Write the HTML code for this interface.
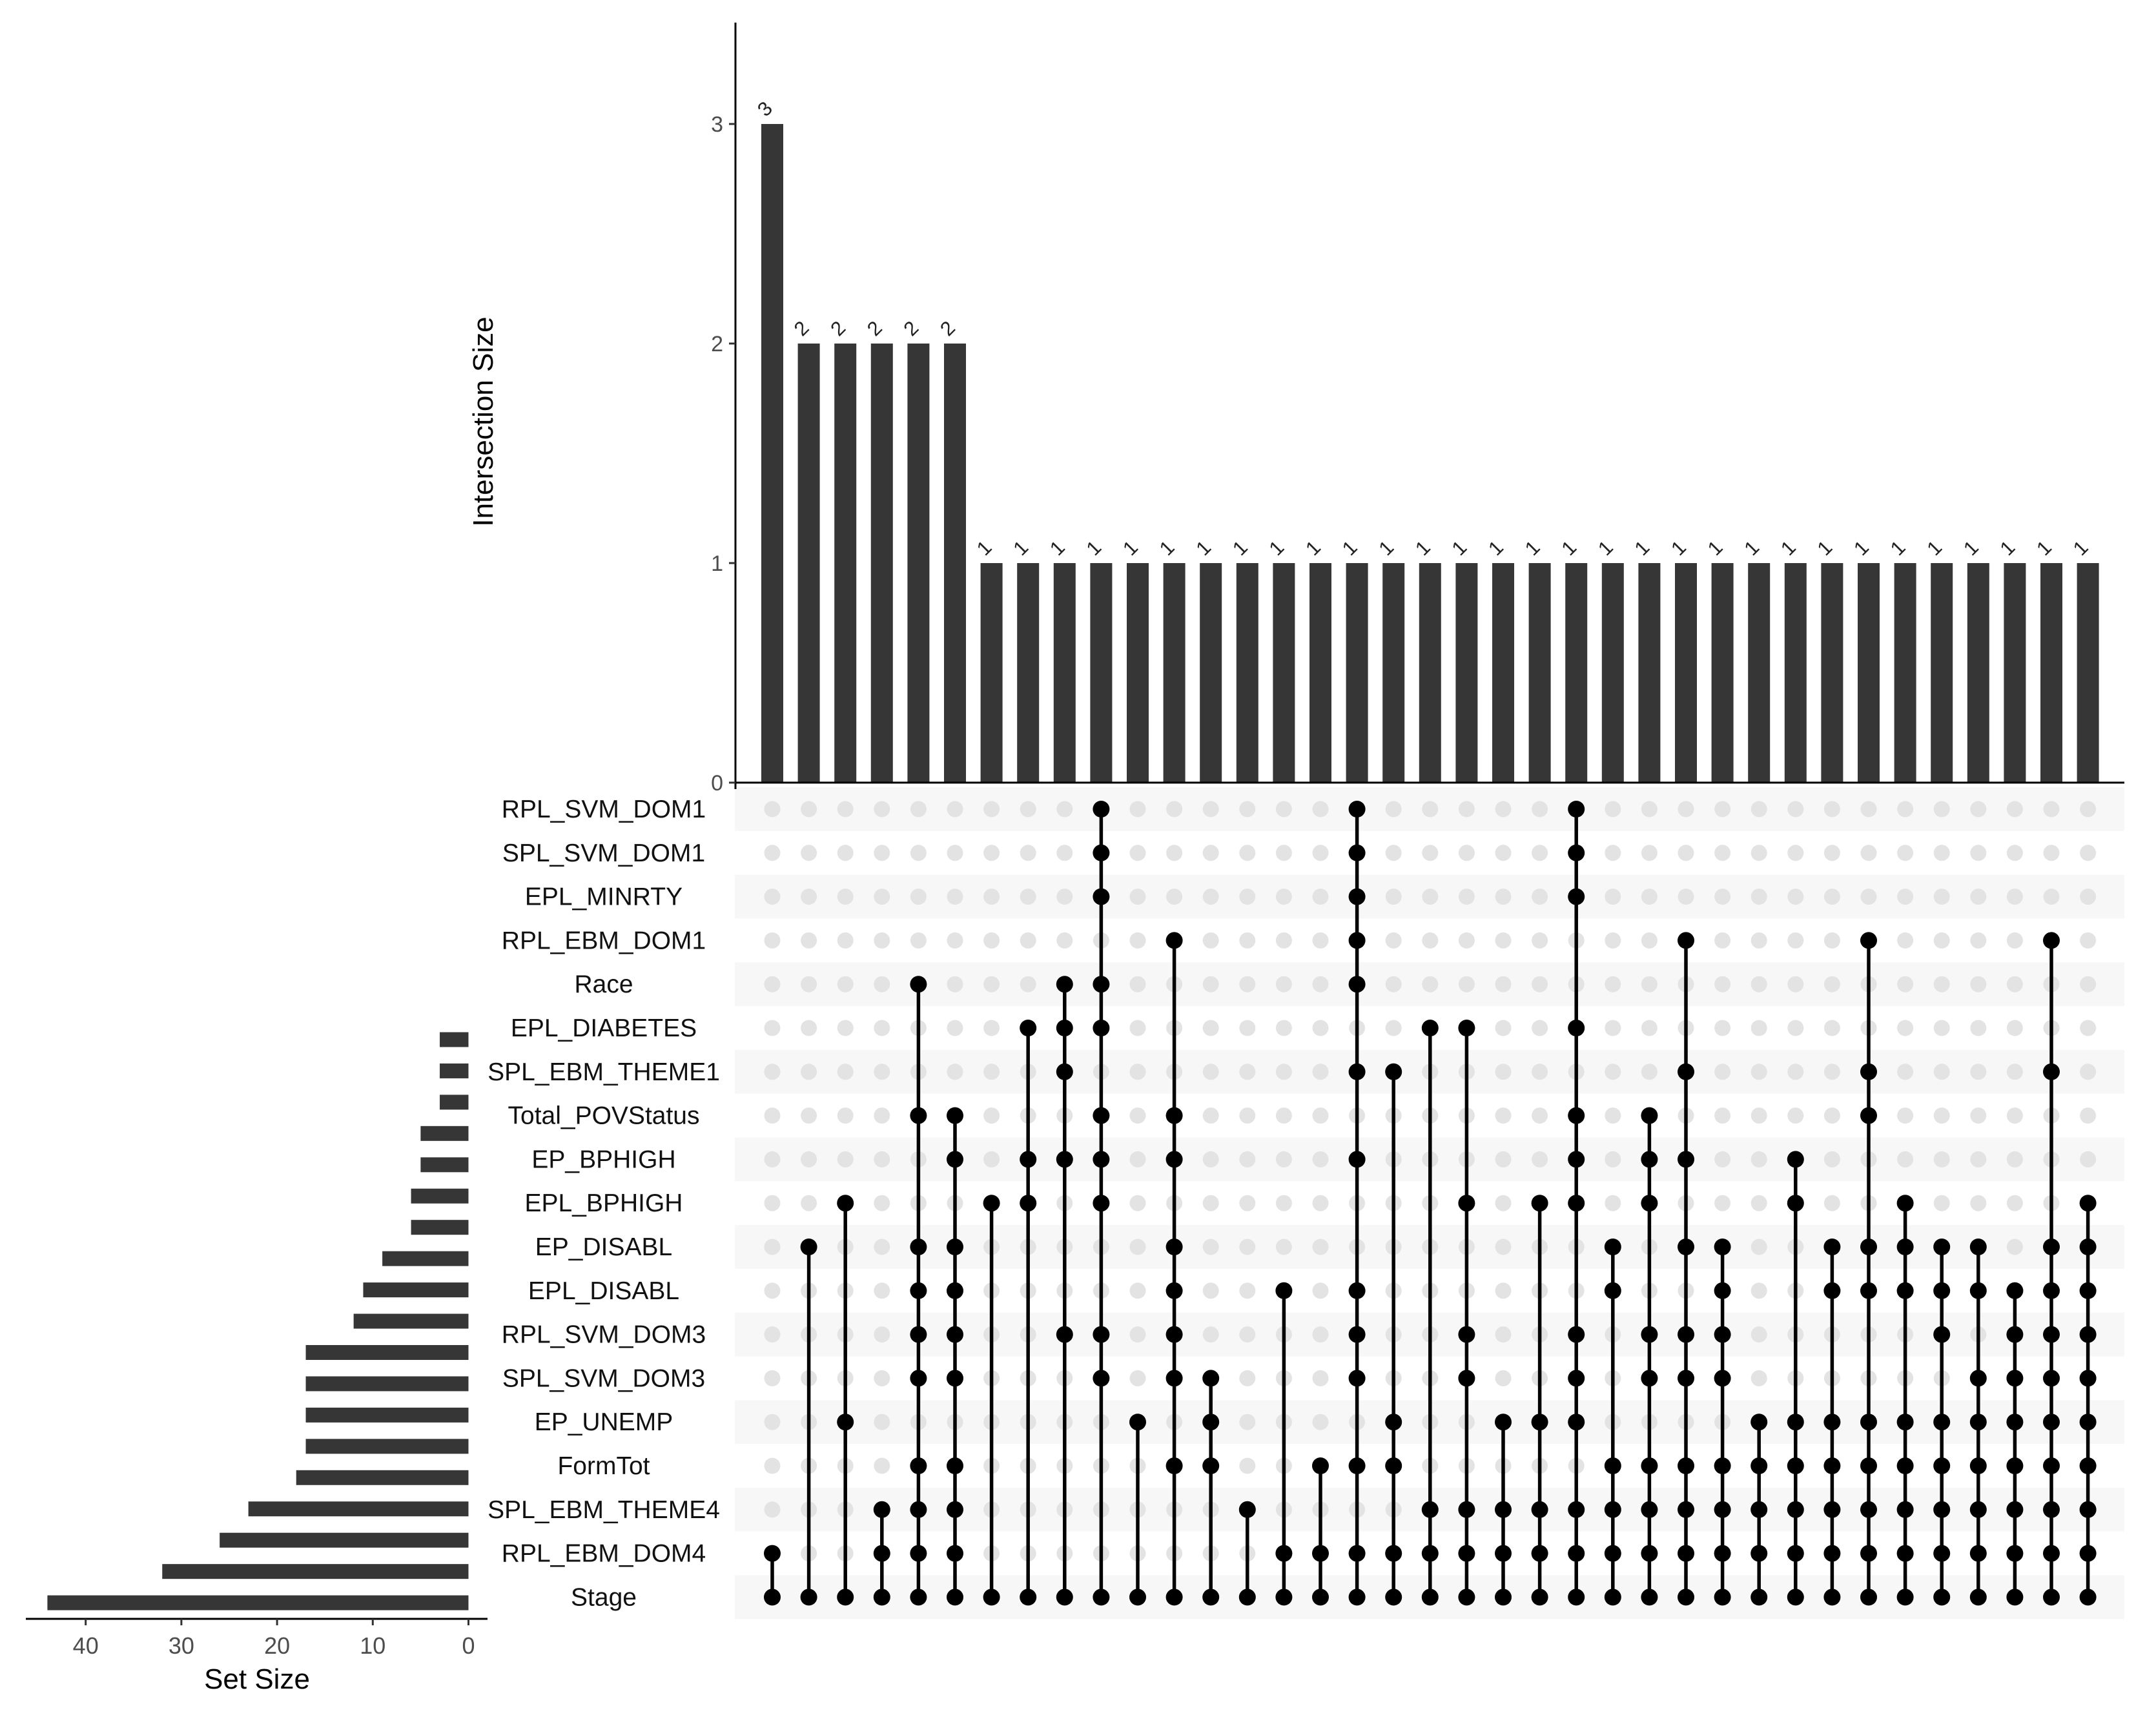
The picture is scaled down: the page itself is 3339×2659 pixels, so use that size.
<!DOCTYPE html>
<html><head><meta charset="utf-8"><style>
html,body{margin:0;padding:0;background:#fff;}
svg{display:block;font-family:"Liberation Sans",Arial,sans-serif;}
</style></head><body>
<svg id="chart" width="3339" height="2659" viewBox="0 0 3339 2659" xmlns="http://www.w3.org/2000/svg">
<g id="stripes"></g>
<g id="topchart"></g>
<g id="matrix"></g>
<g id="sets"></g>
</svg>
<script>
const setNames = ["RPL_SVM_DOM1","SPL_SVM_DOM1","EPL_MINRTY","RPL_EBM_DOM1","Race","EPL_DIABETES","SPL_EBM_THEME1","Total_POVStatus","EP_BPHIGH","EPL_BPHIGH","EP_DISABL","EPL_DISABL","RPL_SVM_DOM3","SPL_SVM_DOM3","EP_UNEMP","FormTot","SPL_EBM_THEME4","RPL_EBM_DOM4","Stage"];
const intersectionSizes = [3,2,2,2,2,2,1,1,1,1,1,1,1,1,1,1,1,1,1,1,1,1,1,1,1,1,1,1,1,1,1,1,1,1,1,1,1];
const memberships = [
[17,18],[10,18],[9,14,18],[16,17,18],[4,7,10,11,12,13,15,16,17,18],[7,8,10,11,12,13,15,16,17,18],
[9,18],[5,8,9,18],[4,5,6,8,12,18],[0,1,2,4,5,7,8,9,12,13,18],[14,18],[3,7,8,10,11,12,13,15,18],
[13,14,15,18],[16,18],[11,17,18],[15,17,18],[0,1,2,3,4,6,8,11,12,13,15,17,18],[6,14,15,17,18],
[5,16,17,18],[5,9,12,13,16,17,18],[14,16,17,18],[9,14,16,17,18],[0,1,2,5,7,8,9,12,13,14,16,17,18],
[10,11,15,16,17,18],[7,8,9,12,13,15,16,17,18],[3,6,8,10,12,13,15,16,17,18],[10,11,12,13,15,16,17,18],
[14,15,16,17,18],[8,9,14,15,16,17,18],[10,11,14,15,16,17,18],[3,6,7,10,11,14,15,16,17,18],
[9,10,11,14,15,16,17,18],[10,11,12,14,15,16,17,18],[10,11,13,14,15,16,17,18],[11,12,13,14,15,16,17,18],
[3,6,10,11,12,13,14,15,16,17,18],[9,10,11,12,13,14,15,16,17,18]];
const setSizes = [3,3,3,5,5,6,6,9,11,12,17,17,17,17,18,23,26,32,44];
const yTicks = [0,1,2,3];
const setTicks = [40,30,20,10,0];

const NS="http://www.w3.org/2000/svg";
function mk(parent,tag,attrs,text){const e=document.createElementNS(NS,tag);for(const k in attrs)e.setAttribute(k,attrs[k]);if(text!==undefined)e.textContent=text;parent.appendChild(e);return e;}
const colX = i => 1196 + i*56.6;
const rowY = r => 1253 + r*67.8;
const yTop = v => 1212 - v*340;
const setX = v => 725.5 - v*14.82;
const setBarY = i => 1610 + i*48.45;

const stripes=document.getElementById('stripes');
for(let r=0;r<setNames.length;r+=2){
  const s=mk(stripes,'rect',{x:1138,y:rowY(r)-33.9,width:2152,height:67.8,fill:'#f7f7f7'});
  
  
}

const topG=document.getElementById('topchart');
intersectionSizes.forEach((v,i)=>{
  const b=mk(topG,'rect',{x:colX(i)-17,y:yTop(v),width:34,height:yTop(0)-yTop(v),fill:'#363636'});
  
  
  const cx=colX(i)-4, cy=yTop(v)-16;
  const t=mk(topG,'text',{x:cx,y:cy,'font-size':31,fill:'#222','text-anchor':'middle',transform:`rotate(-45 ${cx} ${cy})`},String(v));
  
  
});
mk(topG,'line',{x1:1139,y1:35,x2:1139,y2:1222,stroke:'#000','stroke-width':3});
mk(topG,'line',{x1:1139,y1:1212,x2:3290,y2:1212,stroke:'#000','stroke-width':3});
yTicks.forEach(v=>{
  mk(topG,'line',{x1:1129,y1:yTop(v),x2:1139,y2:yTop(v),stroke:'#333','stroke-width':3});
  const t=mk(topG,'text',{x:1120,y:yTop(v)+12,'font-size':34,fill:'#4d4d4d','text-anchor':'end'},String(v));
  
  
});
const yt=mk(topG,'text',{x:763,y:653,'font-size':44,fill:'#000','text-anchor':'middle',transform:'rotate(-90 763 653)'},'Intersection Size');



const matrix=document.getElementById('matrix');
setNames.forEach((n,r)=>{
  const t=mk(matrix,'text',{x:935,y:rowY(r)+13,'font-size':39,fill:'#111','text-anchor':'middle'},n);
  
  
});
memberships.forEach((m,i)=>{
  const x=colX(i);
  for(let r=0;r<setNames.length;r++){
    if(!m.includes(r)){
      const d=mk(matrix,'circle',{cx:x,cy:rowY(r),r:12.5,fill:'#e3e3e3'});
      
      
    }
  }
  const mn=Math.min(...m), mx=Math.max(...m);
  const l=mk(matrix,'line',{x1:x,y1:rowY(mn),x2:x,y2:rowY(mx),stroke:'#000','stroke-width':5.5});
  
  
  m.forEach(r=>{
    const d=mk(matrix,'circle',{cx:x,cy:rowY(r),r:13,fill:'#000'});
    
    
  });
});

const sets=document.getElementById('sets');
setSizes.forEach((v,i)=>{
  const b=mk(sets,'rect',{x:setX(v),y:setBarY(i)-11.5,width:setX(0)-setX(v),height:23,fill:'#363636'});
  
  
});
mk(sets,'line',{x1:40,y1:2507,x2:755,y2:2507,stroke:'#000','stroke-width':3});
setTicks.forEach(v=>{
  mk(sets,'line',{x1:setX(v),y1:2507,x2:setX(v),y2:2517,stroke:'#333','stroke-width':3});
  const t=mk(sets,'text',{x:setX(v),y:2561,'font-size':36,fill:'#4d4d4d','text-anchor':'middle'},String(v));
  
  
});
const st=mk(sets,'text',{x:398,y:2615,'font-size':44,fill:'#000','text-anchor':'middle'},'Set Size');


</script>
</body></html>
